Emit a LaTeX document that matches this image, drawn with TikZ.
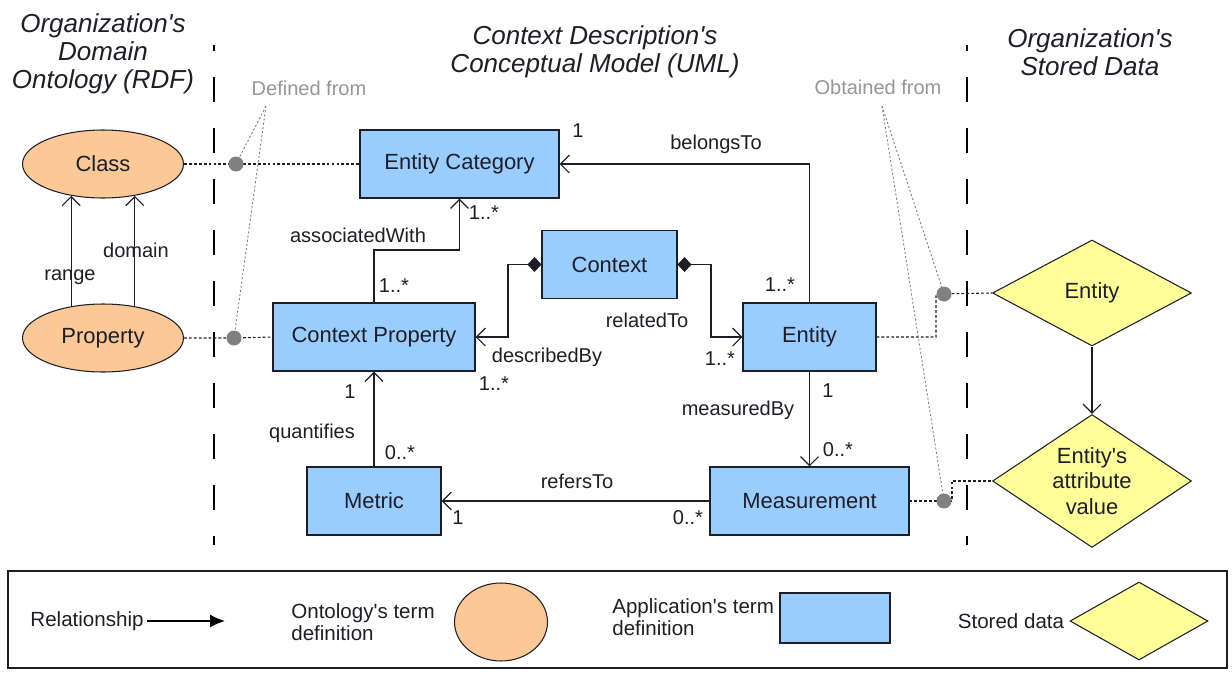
\documentclass[tikz,border=0pt]{standalone}
\usepackage{fontspec}
\setmainfont{Liberation Sans}
\usetikzlibrary{arrows.meta,shapes.geometric}

\definecolor{appblue}{RGB}{153,204,255}
\definecolor{ontopeach}{RGB}{252,200,150}
\definecolor{storedyellow}{RGB}{255,255,153}
\definecolor{linkgray}{RGB}{128,128,128}
\definecolor{notegray}{RGB}{150,150,150}
\definecolor{inkdark}{RGB}{30,30,40}
\newcommand{\apos}{\textquotesingle}

\begin{document}
\begin{tikzpicture}[x=0.02cm,y=-0.02cm,line join=miter,
    every node/.style={text=inkdark},
    appbox/.style={draw=inkdark,line width=0.6pt,fill=appblue,minimum height=1.36cm,
        inner sep=0pt,font=\fontsize{12.5}{15}\selectfont},
    ontoell/.style={ellipse,draw=inkdark,line width=0.6pt,fill=ontopeach,minimum width=3.22cm,
        minimum height=1.36cm,inner sep=0pt,font=\fontsize{12.5}{15}\selectfont},
    storeddia/.style={diamond,draw=inkdark,line width=0.6pt,fill=storedyellow,inner sep=0pt,
        shape aspect=1.5,minimum width=3.98cm,align=center,font=\fontsize{12.5}{14.5}\selectfont},
    heading/.style={align=center,font=\fontsize{14.8}{15.9}\selectfont\itshape},
    lbl/.style={inner sep=0pt,font=\fontsize{11.4}{13}\selectfont},
    note/.style={lbl,text=notegray},
    legtxt/.style={inner sep=0pt,align=left,font=\fontsize{11.7}{12.2}\selectfont},
    assoc/.style={draw=inkdark,line width=0.7pt,-{Straight Barb[length=1.8mm,width=3.6mm]}},
    compo/.style={draw=inkdark,line width=0.7pt,
        {Diamond[length=2.8mm,width=3mm]}-{Straight Barb[length=1.8mm,width=3.6mm]}},
    mapline/.style={draw=inkdark,line width=0.6pt,dash pattern=on 1.6pt off 1.2pt},
    noteline/.style={draw=linkgray,line width=0.5pt,dash pattern=on 1.2pt off 1.2pt},
    mapdot/.style={circle,fill=linkgray,minimum size=0.3cm,inner sep=0pt},
    sepline/.style={draw=black,line width=0.8pt,dash pattern=on 0.5cm off 0.52cm,dash phase=0.38cm}]

    \useasboundingbox (0,0) rectangle (1232,673);

    % headings and column separators
    \node[heading] (hont) at (103,54) {Organization\apos s\\Domain\\Ontology (RDF)};
    \node[heading] (huml) at (595,52) {Context Description\apos s\\Conceptual Model (UML)};
    \node[heading] (hdat) at (1090,52) {Organization\apos s\\Stored Data};
    \draw[sepline] (214,45) -- (214,545);
    \draw[sepline] (967,45) -- (967,545);

    % ontology
    \node[ontoell] (class) at (103,164) {Class};
    \node[ontoell] (property) at (103,338) {Property};
    \draw[assoc] (property.135) -- (class.225);
    \draw[assoc] (property.45) -- (class.-45);
    \node[lbl] (lrange) at (70,277) {range};
    \node[lbl] (ldomain) at (136,250) {domain};

    % conceptual model
    \node[appbox,minimum width=3.98cm] (ecat) at (459.5,164) {Entity Category};
    \node[appbox,minimum width=2.70cm] (ctx) at (609.5,264.5) {Context};
    \node[appbox,minimum width=4.04cm] (cprop) at (374,337) {Context Property};
    \node[appbox,minimum width=2.66cm] (ent) at (809.5,337) {Entity};
    \node[appbox,minimum width=3.98cm] (meas) at (809.5,501) {Measurement};
    \node[appbox,minimum width=2.68cm] (metric) at (374,501) {Metric};

    \coordinate (awturn) at (374,250);
    \coordinate (dbturn) at (508,337);
    \coordinate (rtturn) at (711,337);

    \draw[assoc] (ent.north) |- (ecat.east);
    \draw[assoc] (cprop.north) -- (awturn) -| (ecat.south);
    \draw[compo] (ctx.west) -| (dbturn) -- (cprop.east);
    \draw[compo] (ctx.east) -| (rtturn) -- (ent.west);
    \draw[assoc] (ent.south) -- (meas.north);
    \draw[assoc] (meas.west) -- (metric.east);
    \draw[assoc] (metric.north) -- (cprop.south);

    \node[lbl] (lbelongs) at (716,144) {belongsTo};
    \node[lbl] (mbel1) at (578,131) {1};
    \node[lbl] (mbel2) at (780,285) {1..*};
    \node[lbl] (lassoc) at (358,235) {associatedWith};
    \node[lbl] (mas1) at (484,213) {1..*};
    \node[lbl] (mas2) at (394,286) {1..*};
    \node[lbl] (lrelated) at (647,320) {relatedTo};
    \node[lbl] (ldescr) at (547,357) {describedBy};
    \node[lbl] (mdes) at (494,384) {1..*};
    \node[lbl] (mrel) at (720,359) {1..*};
    \node[lbl] (mmb1) at (828,391) {1};
    \node[lbl] (lmeasured) at (738,410) {measuredBy};
    \node[lbl] (mmb2) at (838,450) {0..*};
    \node[lbl] (lrefers) at (577,481) {refersTo};
    \node[lbl] (mref1) at (458,518) {1};
    \node[lbl] (mref2) at (688,518) {0..*};
    \node[lbl] (lquant) at (312,433) {quantifies};
    \node[lbl] (mq1) at (350,392) {1};
    \node[lbl] (mq2) at (400,453) {0..*};

    % stored data
    \node[storeddia,minimum height=2.12cm] (sdent) at (1092,293) {Entity};
    \node[storeddia,minimum height=2.66cm] (sdattr) at (1092,481) {Entity\apos s\\attribute\\value};
    \draw[assoc] (sdent.south) -- (sdattr.north);

    % mappings
    \coordinate (dcls) at (236,164);
    \coordinate (dprop) at (234,338);
    \coordinate (dent) at (944,294);
    \coordinate (dmeas) at (944,501);
    \coordinate (entturn) at (936,294);
    \coordinate (measturn) at (952,481);
    \draw[mapline] (class.east) -- (dcls) -- (ecat.west);
    \draw[mapline] (property.east) -- (dprop) -- (cprop.west);
    \draw[mapline] (ent.east) -| (entturn) -- (sdent.west);
    \draw[mapline] (meas.east) -| (measturn) -- (sdattr.west);

    \node[note] (ndef) at (309,88) {Defined from};
    \node[note] (nobt) at (878,87) {Obtained from};
    \coordinate (dfrom) at (266,106);
    \coordinate (ofrom) at (882,106);
    \draw[noteline] (dfrom) -- (dcls);
    \draw[noteline] (dfrom) -- (dprop);
    \draw[noteline] (ofrom) -- (dent);
    \draw[noteline] (ofrom) -- (dmeas);

    \node[mapdot] (dotcls) at (dcls) {};
    \node[mapdot] (dotprop) at (dprop) {};
    \node[mapdot] (dotent) at (dent) {};
    \node[mapdot] (dotmeas) at (dmeas) {};

    % legend
    \draw[draw=inkdark,line width=0.7pt] (8,571) rectangle (1227,668);
    \node[legtxt] (lgrel) at (87,621) {Relationship};
    \coordinate (lgrelend) at (225,621);
    \draw[draw=black,line width=0.8pt,-{Latex[length=3mm,width=2.6mm]}] (lgrel.east) ++(3,0) -- (lgrelend);
    \node[legtxt,anchor=west] (lgont) at (291,622) {Ontology\apos s term\\definition};
    \node[ellipse,draw=inkdark,line width=0.6pt,fill=ontopeach,minimum width=1.86cm,
        minimum height=1.56cm,inner sep=0pt] (lgell) at (501,622) {};
    \node[legtxt,anchor=west] (lgapp) at (612,617) {Application\apos s term\\definition};
    \node[draw=inkdark,line width=0.6pt,fill=appblue,minimum width=2.2cm,minimum height=1.0cm,
        inner sep=0pt] (lgbox) at (835,618) {};
    \node[legtxt] (lgsto) at (1011,621) {Stored data};
    \node[diamond,draw=inkdark,line width=0.6pt,fill=storedyellow,minimum width=2.76cm,
        minimum height=1.56cm,inner sep=0pt] (lgdia) at (1139,621) {};
\end{tikzpicture}
\end{document}
